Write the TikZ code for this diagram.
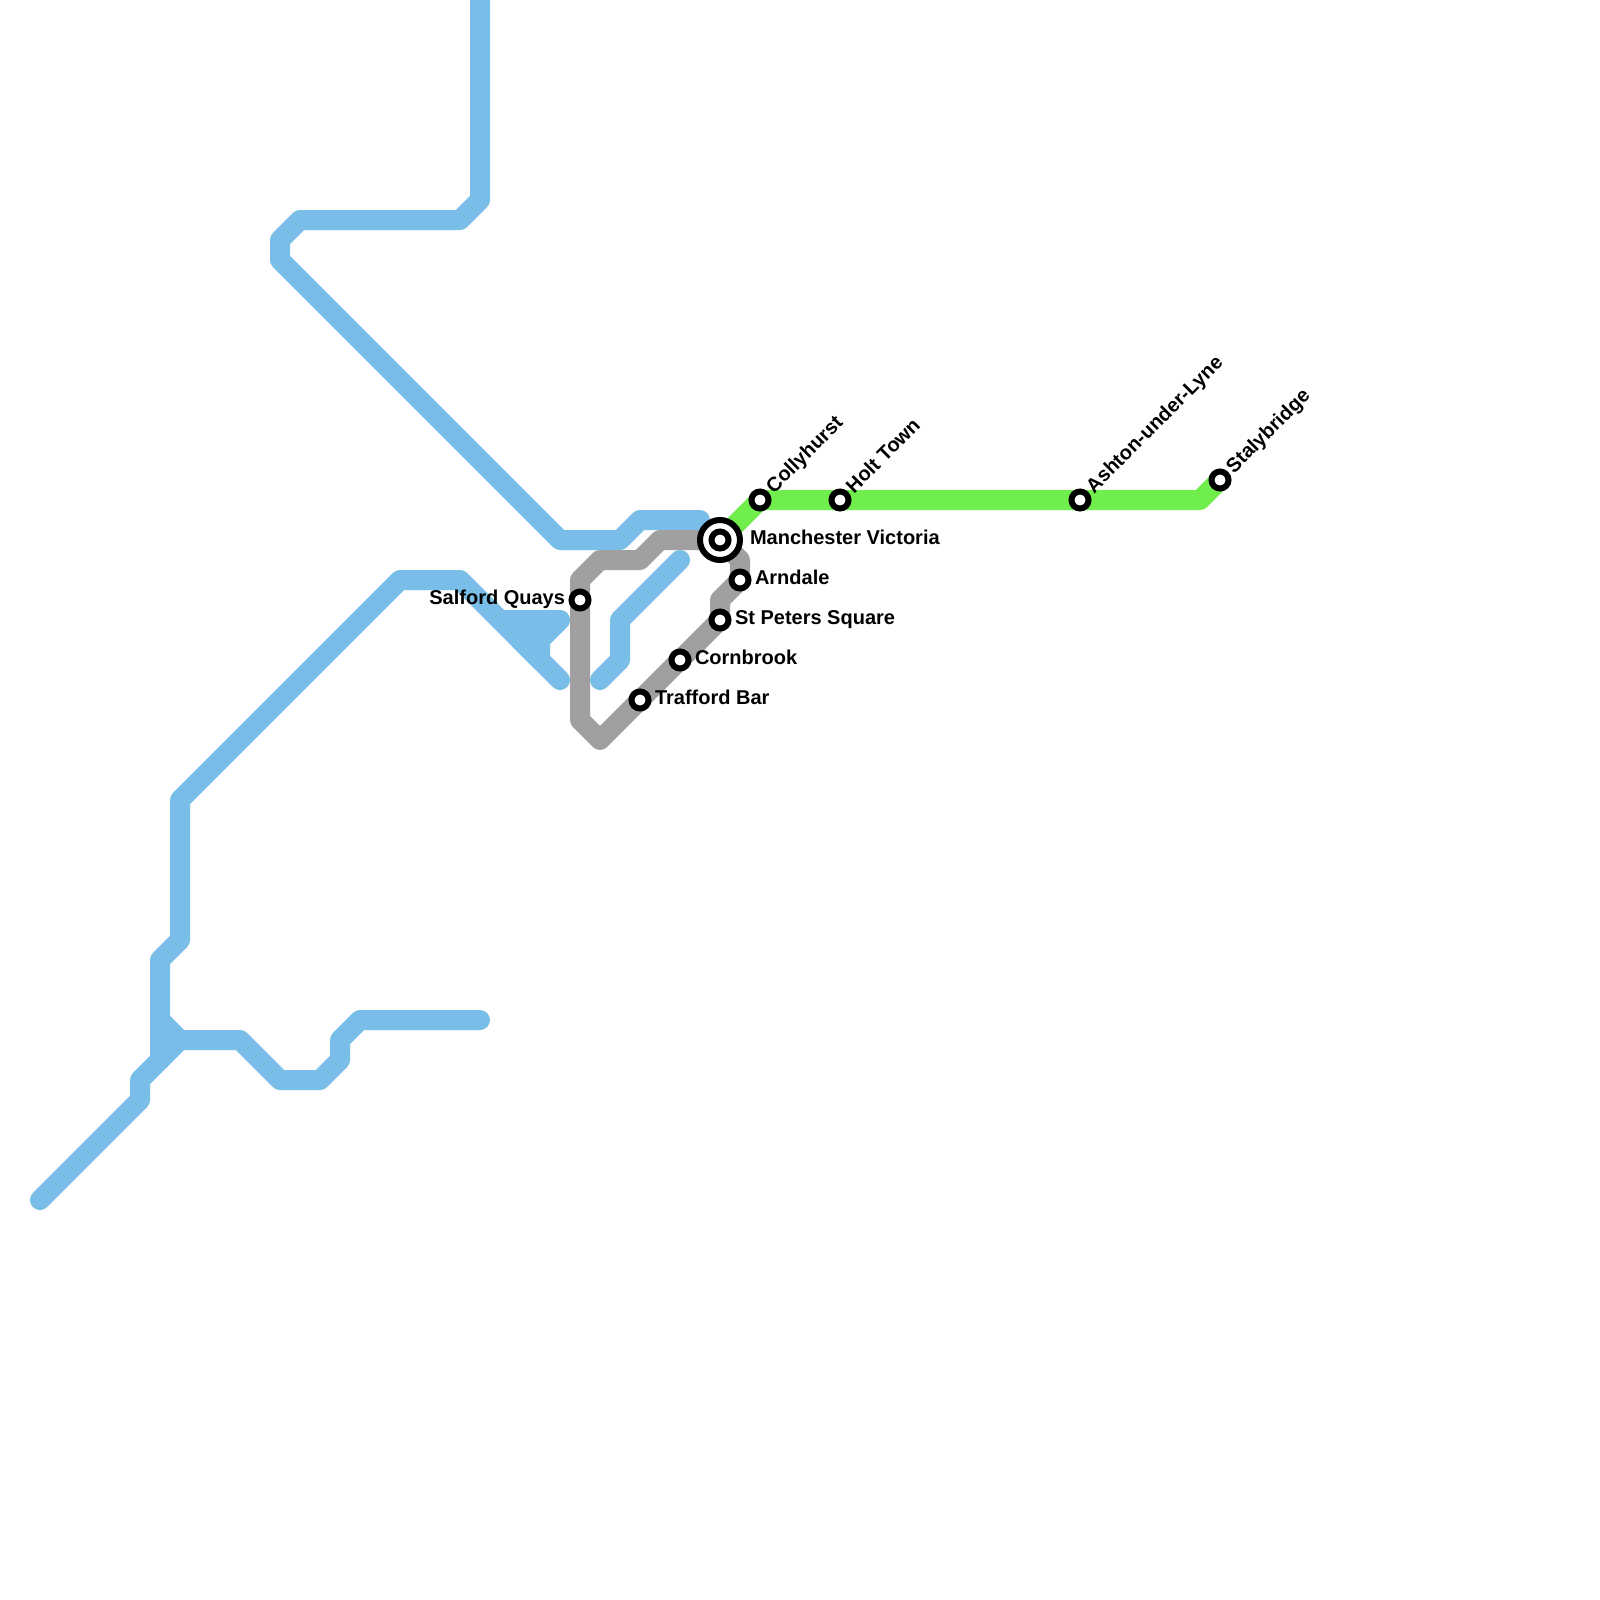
\documentclass[tikz,border=0pt]{standalone}
\usepackage{fontspec}
\setmainfont{Liberation Sans}
\definecolor{lblue}{HTML}{79BDE9}
\definecolor{lgrey}{HTML}{A0A0A0}
\definecolor{lgreen}{HTML}{70EE4E}
\tikzset{
  route/.style={line width=15pt,line cap=round,line join=round},
  bluer/.style={route,draw=lblue},
  greyr/.style={route,draw=lgrey},
  greenr/.style={route,draw=lgreen},
  stop/.style={circle,draw=black,fill=white,line width=4.5pt,minimum size=12.75pt,inner sep=0pt,outer sep=0pt},
  hub/.style={circle,draw=black,fill=white,line width=4.5pt,minimum size=30pt,inner sep=0pt,outer sep=0pt},
  lab/.style={font=\fontsize{15pt}{17pt}\selectfont\bfseries,inner sep=0pt,outer sep=0pt},
}
\begin{document}
\begin{tikzpicture}[x=0.75pt,y=-0.75pt]
\useasboundingbox (0,0) rectangle (1600,1600);
\fill[white] (0,0) rectangle (1600,1600);
\coordinate (mv) at (720,540);
\coordinate (coll) at (760,500);
\coordinate (holt) at (840,500);
\coordinate (asht) at (1080,500);
\coordinate (staly) at (1220,480);
\coordinate (arn) at (740,580);
\coordinate (stp) at (720,620);
\coordinate (corn) at (680,660);
\coordinate (traf) at (640,700);
\coordinate (salq) at (580,600);
% blue lines
\draw[bluer] (480,-20) -- (480,200) -- (460,220) -- (300,220) -- (280,240) -- (280,260) -- (560,540) -- (620,540) -- (640,520) -- (700,520);
\draw[bluer] (40,1200) -- (140,1100) -- (140,1080) -- (180,1040) -- (240,1040) -- (280,1080) -- (320,1080) -- (340,1060) -- (340,1040) -- (360,1020) -- (480,1020);
\draw[bluer] (180,1040) -- (160,1020);
\draw[bluer] (160,1060) -- (160,960) -- (180,940) -- (180,800) -- (400,580) -- (460,580) -- (560,680);
\draw[bluer] (500,620) -- (560,620) -- (540,640) -- (540,660) -- (520,640) -- (540,620);
\draw[bluer] (600,680) -- (620,660) -- (620,620) -- (680,560);
% grey line
\draw[greyr] (mv) -- (660,540) -- (640,560) -- (600,560) -- (580,580) -- (salq) -- (580,720) -- (600,740) -- (traf) -- (corn) -- (stp) -- (720,600) -- (arn) -- (740,560) -- (mv);
% green line
\draw[greenr] (mv) -- (coll) -- (holt) -- (asht) -- (1200,500) -- (staly);
% stations
\node[hub] (nmv) at (mv) {};
\node[stop] (nmvi) at (mv) {};
\node[stop] (ncoll) at (coll) {};
\node[stop] (nholt) at (holt) {};
\node[stop] (nasht) at (asht) {};
\node[stop] (nstaly) at (staly) {};
\node[stop] (narn) at (arn) {};
\node[stop] (nstp) at (stp) {};
\node[stop] (ncorn) at (corn) {};
\node[stop] (ntraf) at (traf) {};
\node[stop] (nsalq) at (salq) {};
% labels
\node[lab,anchor=base west] (tmv) at (750,544) {Manchester Victoria};
\node[lab,anchor=base west] (tarn) at (755,584) {Arndale};
\node[lab,anchor=base west] (tstp) at (735,624) {St Peters Square};
\node[lab,anchor=base west] (tcorn) at (695,664) {Cornbrook};
\node[lab,anchor=base west] (ttraf) at (655,704) {Trafford Bar};
\node[lab,anchor=base east] (tsalq) at (565,604) {Salford Quays};
\node[lab,anchor=base west,rotate=45] (tcoll) at (774,494) {Collyhurst};
\node[lab,anchor=base west,rotate=45] (tholt) at (854,494) {Holt Town};
\node[lab,anchor=base west,rotate=45] (tasht) at (1094,494) {Ashton-under-Lyne};
\node[lab,anchor=base west,rotate=45] (tstaly) at (1234,474) {Stalybridge};
\end{tikzpicture}
\end{document}
